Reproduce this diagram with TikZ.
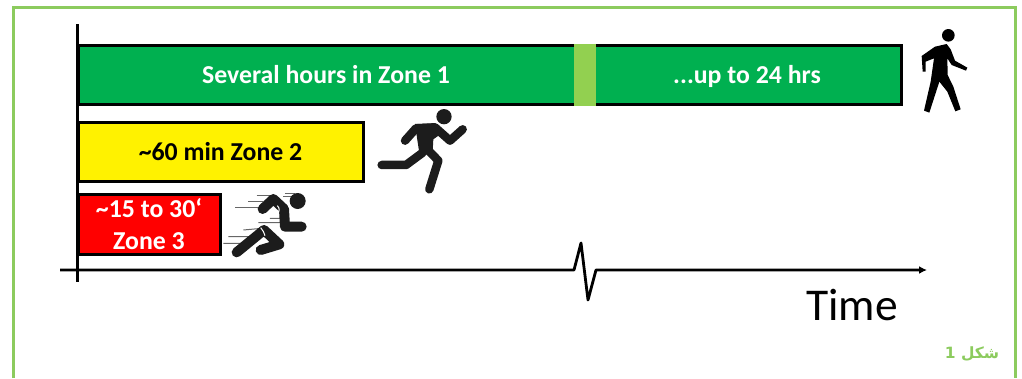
\documentclass[tikz,border=0pt]{standalone}
\usepackage{fontspec}
\setmainfont{Carlito}
\newfontfamily\arabicfont[Script=Arabic]{DejaVu Sans}
\TeXXeTstate=1
\usetikzlibrary{arrows.meta}
\definecolor{framegreen}{HTML}{8CCB5E}
\definecolor{zonegreen}{HTML}{00B050}
\definecolor{patchgreen}{HTML}{92D050}
\definecolor{figblack}{HTML}{1C1C1C}
\tikzset{
  bar/.style={draw=black,line width=3pt,inner sep=0pt,outer sep=0pt,anchor=center},
  barlabel/.style={font=\bfseries\fontsize{25.8}{32}\selectfont,inner sep=0pt,anchor=base},
  axisline/.style={draw=black,line width=2.8pt},
  limb/.style={draw=figblack,line cap=round,line join=round,line width=8.5pt},
  speed/.style={draw=gray!80!black,line width=1pt},
  gapline/.style={draw=white,line width=1pt},
}
\begin{document}
\begin{tikzpicture}[x=1pt,y=-1pt]
\useasboundingbox (0,0) rectangle (1022,378);
% frame (open at the bottom)
\draw[framegreen,line width=3pt] (13,378) -- (13,7) -- (1015.5,7) -- (1015.5,378);

% bars
\node[bar,fill=zonegreen,minimum width=823pt,minimum height=59pt] (zone1) at (489.5,74.5) {};
\node[fill=patchgreen,inner sep=0pt,minimum width=22.5pt,minimum height=62pt] (patch) at (584.75,74.5) {};
\node[barlabel,text=white] (l1) at (326,83) {Several hours in Zone 1};
\node[barlabel,text=white] (l2) at (747,83) {...up to 24 hrs};
\node[bar,fill=yellow,minimum width=285.5pt,minimum height=59pt] (zone2) at (220.75,152) {};
\node[barlabel,text=black] (l3) at (220.5,160.5) {\textasciitilde60 min Zone 2};
\node[bar,fill=red,minimum width=142.5pt,minimum height=60pt] (zone3) at (149.25,224) {};
\node[barlabel,text=white] (l4) at (149,217) {\textasciitilde15 to 30‘};
\node[barlabel,text=white] (l5) at (149,249) {Zone 3};

% axes
\coordinate (ytop) at (77.5,24);
\coordinate (ybot) at (77.5,282);
\coordinate (xl) at (60,270);
\coordinate (b1) at (574,270);
\coordinate (b2) at (581,243);
\coordinate (b3) at (588,300);
\coordinate (b4) at (596,270);
\coordinate (xr) at (927,270);
\draw[axisline,line width=3.4pt] (ytop) -- (ybot);
\draw[axisline,line join=round,-{Latex[length=8pt,width=8pt]}] (xl) -- (b1) -- (b2) -- (b3) -- (b4) -- (xr);
\node[inner sep=0pt,anchor=base,font=\fontsize{45.5}{50}\selectfont] (timelabel) at (852,320) {Time};

% caption
\node[inner sep=0pt,text=framegreen,font=\arabicfont\bfseries\fontsize{15.5}{18}\selectfont] (cap) at (972,354) {\beginR شكل 1\endR};

% walker
\begin{scope}[shift={(910,20)},x=0.3333pt,y=-0.3333pt]
  \fill[black] (115,46) circle[radius=19];
  \fill[black] (35,108) -- (75,80) -- (110,72) -- (122,88) -- (135,122) -- (172,143) -- (168,152) -- (125,135) -- (112,115) -- (113,165) -- (130,200) -- (152,268) -- (136,274) -- (112,215) -- (88,185) -- (58,278) -- (42,272) -- (62,185) -- (72,115) -- (47,125) -- (47,155) -- (38,155) -- cycle;
\end{scope}

% runner
\begin{scope}[shift={(370,100)},x=0.3333pt,y=-0.3333pt]
  \fill[figblack] (222,50) circle[radius=23];
  \fill[figblack] (135,72) -- (198,70) -- (215,100) -- (190,118) -- (188,155) -- (150,172) -- (142,120) -- cycle;
  \draw[limb] (105,122) -- (138,85) -- (195,82) -- (240,122) -- (278,88);
  \draw[limb] (172,148) -- (205,182) -- (178,268);
  \draw[limb] (158,158) -- (108,195) -- (35,195);
\end{scope}

% sprinter
\begin{scope}[shift={(220,185)},x=0.3333pt,y=-0.3333pt]
  \draw[speed] (85,48) -- (130,48) (45,67) -- (125,67) (110,30) -- (150,30) (190,35) -- (215,35) (195,26) -- (225,26);
  \draw[speed] (150,100) -- (195,100) (115,113) -- (190,113) (70,135) -- (125,130) (25,155) -- (95,155) (10,175) -- (65,175);
  \fill[figblack] (233,48) circle[radius=24];
  \draw[limb,line width=10pt] (128,72) -- (160,42) -- (190,70);
  \draw[limb,line width=10pt] (192,72) -- (195,125) -- (245,125);
  \draw[limb,line width=10pt] (50,202) -- (132,135) -- (178,178) -- (122,195);
  \draw[gapline] (172,62) .. controls (180,70) and (178,78) .. (175,86);
  \draw[gapline] (122,128) .. controls (130,135) and (132,145) .. (135,152);
\end{scope}
\end{tikzpicture}
\end{document}
